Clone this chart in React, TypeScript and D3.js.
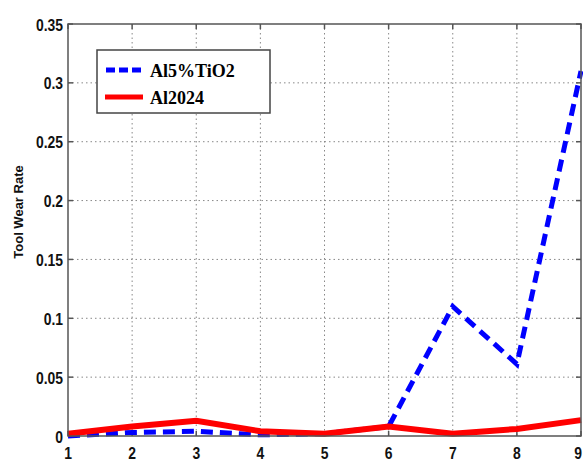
import React from "react";
import * as d3 from "d3";

const xValues = [1, 2, 3, 4, 5, 6, 7, 8, 9];
const tio2Values = [0.0, 0.003, 0.004, 0.001, 0.002, 0.008, 0.11, 0.061, 0.31];
const al2024Values = [0.002, 0.008, 0.013, 0.004, 0.002, 0.008, 0.002, 0.006, 0.0135];
const yTicks = [0, 0.05, 0.1, 0.15, 0.2, 0.25, 0.3, 0.35];
const xTicks = [1, 2, 3, 4, 5, 6, 7, 8, 9];
const seriesNames = ["Al5%TiO2", "Al2024"];

export default function App() {
  const W = 583, H = 461;
  const left = 68, right = 581, top = 24, bottom = 436;
  const x = d3.scaleLinear().domain([1, 9]).range([left, right]);
  const y = d3.scaleLinear().domain([0, 0.35]).range([bottom, top]);
  const line = d3.line<number>().x((_, i) => x(xValues[i])).y((d) => y(d));
  const tickFont = "Liberation Sans, Arial, sans-serif";
  return (
    <div style={{ position: "absolute", left: 0, top: 0 }}>
      <svg width={W} height={H} style={{ display: "block", background: "#fff" }}>
        <rect x={0} y={0} width={W} height={H} fill="#fff" />
        {/* grid */}
        {xTicks.slice(1, -1).map((t) => (
          <line key={"gx" + t} x1={x(t)} x2={x(t)} y1={top} y2={bottom} stroke="#888" strokeWidth={1} strokeDasharray="1.5,3" />
        ))}
        {yTicks.slice(1, -1).map((t) => (
          <line key={"gy" + t} x1={left} x2={right} y1={y(t)} y2={y(t)} stroke="#888" strokeWidth={1} strokeDasharray="1.5,3" />
        ))}
        {/* ticks */}
        {xTicks.map((t) => (
          <g key={"tx" + t}>
            <line x1={x(t)} x2={x(t)} y1={bottom} y2={bottom - 5} stroke="#555" strokeWidth={1.5} />
            <line x1={x(t)} x2={x(t)} y1={top} y2={top + 5} stroke="#555" strokeWidth={1.5} />
            <g transform={`translate(${Math.min(x(t), 578)},459) scale(0.82,1)`}>
              <text x={0} y={0} textAnchor="middle" fontFamily={tickFont} fontSize={17} fontWeight="bold" fill="#111">{t}</text>
            </g>
          </g>
        ))}
        {yTicks.map((t) => (
          <g key={"ty" + t}>
            <line x1={left} x2={left + 5} y1={y(t)} y2={y(t)} stroke="#555" strokeWidth={1.5} />
            <line x1={right} x2={right - 5} y1={y(t)} y2={y(t)} stroke="#555" strokeWidth={1.5} />
            <g transform={`translate(63,${y(t) + 6.5}) scale(0.82,1)`}>
              <text x={0} y={0} textAnchor="end" fontFamily={tickFont} fontSize={17} fontWeight="bold" fill="#111">{String(t)}</text>
            </g>
          </g>
        ))}
        {/* series */}
        <path d={line(tio2Values) || ""} fill="none" stroke="#0000ff" strokeWidth={5} strokeDasharray="12,7" />
        <path d={line(al2024Values) || ""} fill="none" stroke="#ff0000" strokeWidth={6} />
        {/* frame */}
        <rect x={left} y={top} width={right - left} height={bottom - top} fill="none" stroke="#555" strokeWidth={1.5} />
        {/* y label */}
        <text transform={`translate(23,212) rotate(-90)`} textAnchor="middle" fontFamily={tickFont} fontSize={13} fontWeight="bold" fill="#111">Tool Wear Rate</text>
        {/* legend */}
        <rect x={97} y={50} width={173} height={63} fill="#fff" stroke="#444" strokeWidth={1.5} />
        <line x1={106} x2={143} y1={70} y2={70} stroke="#0000ff" strokeWidth={5} strokeDasharray="9,4" />
        <text x={150} y={77} fontFamily="Liberation Serif, Times New Roman, serif" fontSize={18} fontWeight="bold" fill="#000">{seriesNames[0]}</text>
        <line x1={105} x2={143} y1={97} y2={97} stroke="#ff0000" strokeWidth={5} />
        <text x={150} y={104} fontFamily="Liberation Serif, Times New Roman, serif" fontSize={18} fontWeight="bold" fill="#000">{seriesNames[1]}</text>
      </svg>
    </div>
  );
}
